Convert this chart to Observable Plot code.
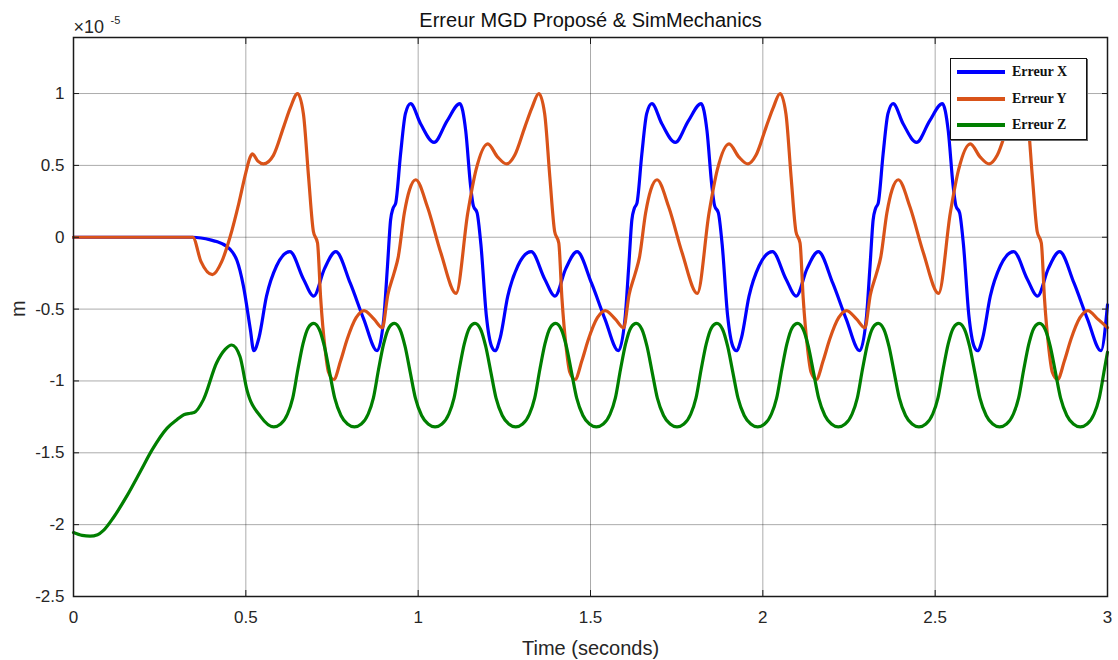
<!DOCTYPE html>
<html>
<head>
<meta charset="utf-8">
<script src="https://cdn.jsdelivr.net/npm/d3@7"></script>
<script src="https://cdn.jsdelivr.net/npm/@observablehq/plot@0.6"></script>
<style>
  html, body { margin: 0; padding: 0; background: #fff; }
  #wrap { position: relative; width: 1118px; height: 660px; font-family: "Liberation Sans", Arial, sans-serif; }
  #legend { position: absolute; left: 950px; top: 58px; width: 135px; height: 80px; background: #fff;
            border: 1.5px solid #111; box-shadow: 1px 1px 0 #666; }
  .row { position: absolute; left: 6px; height: 20px; }
  .swatch { position: absolute; left: 0; top: 8px; width: 48px; height: 4px; }
  .lbl { position: absolute; left: 55px; top: 0; font-family: "Liberation Serif", "Times New Roman", serif;
         font-weight: bold; font-size: 14px; line-height: 20px; white-space: nowrap; color: #111; }
</style>
</head>
<body>
<div id="wrap"></div>
<script>
// ---- tick labels ----
const xTicks = [0, 0.5, 1, 1.5, 2, 2.5, 3];
const yTicks = [-2.5, -2, -1.5, -1, -0.5, 0, 0.5, 1];

// ---- series names / colours ----
const seriesNames = ["Erreur X", "Erreur Y", "Erreur Z"];
const seriesColors = ["#0000ff", "#d95319", "#007f00"];

// ---- Erreur X (blue), time in s, value in 1e-5 m ----
const tX = [0, 0.346, 0.37, 0.40, 0.415, 0.445, 0.46, 0.474, 0.493, 0.513,
  0.523, 0.538, 0.560, 0.589, 0.628, 0.667, 0.697, 0.728, 0.761, 0.803, 0.842, 0.881, 0.900, 0.911, 0.920, 0.927, 0.935, 0.949, 0.963, 0.978, 1.007, 1.046, 1.084, 1.121, 1.138, 1.152, 1.160, 1.171, 1.182, 1.198, 1.213,
  1.223, 1.238, 1.260, 1.289, 1.328, 1.367, 1.397, 1.428, 1.461, 1.503, 1.542, 1.581, 1.600, 1.611, 1.620, 1.627, 1.635, 1.649, 1.663, 1.678, 1.707, 1.746, 1.784, 1.821, 1.838, 1.852, 1.860, 1.871, 1.882, 1.898, 1.913,
  1.923, 1.938, 1.960, 1.989, 2.028, 2.067, 2.097, 2.128, 2.161, 2.203, 2.242, 2.281, 2.300, 2.311, 2.320, 2.327, 2.335, 2.349, 2.363, 2.378, 2.407, 2.446, 2.484, 2.521, 2.538, 2.552, 2.560, 2.571, 2.582, 2.598, 2.613,
  2.623, 2.638, 2.660, 2.689, 2.728, 2.767, 2.797, 2.828, 2.861, 2.903, 2.942, 2.981, 3.0];
const vX = [0, 0, -0.005, -0.02, -0.03, -0.065, -0.10, -0.16, -0.34, -0.64,
  -0.79, -0.70, -0.41, -0.20, -0.10, -0.29, -0.41, -0.22, -0.10, -0.32, -0.57, -0.79, -0.57, -0.20, 0.12, 0.20, 0.24, 0.58, 0.86, 0.93, 0.79, 0.66, 0.81, 0.93, 0.74, 0.36, 0.22, 0.17, -0.05, -0.55, -0.76,
  -0.79, -0.70, -0.41, -0.20, -0.10, -0.29, -0.41, -0.22, -0.10, -0.32, -0.57, -0.79, -0.57, -0.20, 0.12, 0.20, 0.24, 0.58, 0.86, 0.93, 0.79, 0.66, 0.81, 0.93, 0.74, 0.36, 0.22, 0.17, -0.05, -0.55, -0.76,
  -0.79, -0.70, -0.41, -0.20, -0.10, -0.29, -0.41, -0.22, -0.10, -0.32, -0.57, -0.79, -0.57, -0.20, 0.12, 0.20, 0.24, 0.58, 0.86, 0.93, 0.79, 0.66, 0.81, 0.93, 0.74, 0.36, 0.22, 0.17, -0.05, -0.55, -0.76,
  -0.79, -0.70, -0.41, -0.20, -0.10, -0.29, -0.41, -0.22, -0.10, -0.32, -0.57, -0.79, -0.47];

// ---- Erreur Y (orange) ----
const tY = [0, 0.346, 0.37, 0.403, 0.43, 0.454, 0.48, 0.50, 0.513, 0.519, 0.535, 0.551, 0.58, 0.61, 0.629,
  0.650, 0.667, 0.682, 0.696, 0.708, 0.717, 0.730, 0.740, 0.755, 0.775, 0.794, 0.820, 0.843, 0.872, 0.896, 0.912, 0.930, 0.942, 0.960, 0.975, 0.993, 1.027, 1.066, 1.110, 1.144, 1.168, 1.202, 1.230, 1.257, 1.280, 1.310, 1.330,
  1.350, 1.367, 1.382, 1.396, 1.408, 1.417, 1.430, 1.440, 1.455, 1.475, 1.494, 1.520, 1.543, 1.572, 1.596, 1.612, 1.630, 1.642, 1.660, 1.675, 1.693, 1.727, 1.766, 1.810, 1.844, 1.868, 1.902, 1.930, 1.957, 1.980, 2.010, 2.030,
  2.050, 2.067, 2.082, 2.096, 2.108, 2.117, 2.130, 2.140, 2.155, 2.175, 2.194, 2.220, 2.243, 2.272, 2.296, 2.312, 2.330, 2.342, 2.360, 2.375, 2.393, 2.427, 2.466, 2.510, 2.544, 2.568, 2.602, 2.630, 2.657, 2.680, 2.710, 2.730,
  2.750, 2.767, 2.782, 2.796, 2.808, 2.817, 2.830, 2.840, 2.855, 2.875, 2.894, 2.920, 2.943, 2.972, 3.0];
const vY = [0, 0, -0.17, -0.26, -0.17, 0, 0.24, 0.45, 0.56, 0.58, 0.53, 0.51, 0.57, 0.77, 0.90,
  1.00, 0.86, 0.42, 0.04, -0.04, -0.42, -0.78, -0.94, -0.99, -0.86, -0.71, -0.56, -0.51, -0.57, -0.63, -0.40, -0.25, -0.14, 0.17, 0.33, 0.40, 0.21, -0.11, -0.39, 0.17, 0.47, 0.65, 0.56, 0.51, 0.57, 0.77, 0.90,
  1.00, 0.86, 0.42, 0.04, -0.04, -0.42, -0.78, -0.94, -0.99, -0.86, -0.71, -0.56, -0.51, -0.57, -0.63, -0.40, -0.25, -0.14, 0.17, 0.33, 0.40, 0.21, -0.11, -0.39, 0.17, 0.47, 0.65, 0.56, 0.51, 0.57, 0.77, 0.90,
  1.00, 0.86, 0.42, 0.04, -0.04, -0.42, -0.78, -0.94, -0.99, -0.86, -0.71, -0.56, -0.51, -0.57, -0.63, -0.40, -0.25, -0.14, 0.17, 0.33, 0.40, 0.21, -0.11, -0.39, 0.17, 0.47, 0.65, 0.56, 0.51, 0.57, 0.77, 0.90,
  1.00, 0.86, 0.42, 0.04, -0.04, -0.42, -0.78, -0.94, -0.99, -0.86, -0.71, -0.56, -0.51, -0.57, -0.63];

// ---- Erreur Z (green) ----
const tZ = [0, 0.025, 0.048, 0.07, 0.087, 0.116, 0.155, 0.194, 0.228, 0.271, 0.300, 0.320, 0.339, 0.350, 0.377, 0.415, 0.440, 0.459, 0.483, 0.503, 0.542,
  0.581, 0.601, 0.621, 0.636, 0.651, 0.666, 0.681, 0.697, 0.713, 0.728, 0.743, 0.758, 0.776, 0.795,
  0.815, 0.835, 0.855, 0.870, 0.885, 0.900, 0.915, 0.931, 0.947, 0.962, 0.977, 0.992, 1.010, 1.029,
  1.049, 1.069, 1.089, 1.104, 1.119, 1.134, 1.149, 1.165, 1.181, 1.196, 1.211, 1.226, 1.244, 1.263,
  1.283, 1.303, 1.323, 1.338, 1.353, 1.368, 1.383, 1.399, 1.415, 1.430, 1.445, 1.460, 1.478, 1.497,
  1.517, 1.537, 1.557, 1.572, 1.587, 1.602, 1.617, 1.633, 1.649, 1.664, 1.679, 1.694, 1.712, 1.731,
  1.751, 1.771, 1.791, 1.806, 1.821, 1.836, 1.851, 1.867, 1.883, 1.898, 1.913, 1.928, 1.946, 1.965,
  1.985, 2.005, 2.025, 2.040, 2.055, 2.070, 2.085, 2.101, 2.117, 2.132, 2.147, 2.162, 2.180, 2.199,
  2.219, 2.239, 2.259, 2.274, 2.289, 2.304, 2.319, 2.335, 2.351, 2.366, 2.381, 2.396, 2.414, 2.433,
  2.453, 2.473, 2.493, 2.508, 2.523, 2.538, 2.553, 2.569, 2.585, 2.600, 2.615, 2.630, 2.648, 2.667,
  2.687, 2.707, 2.727, 2.742, 2.757, 2.772, 2.787, 2.803, 2.819, 2.834, 2.849, 2.864, 2.882, 2.901,
  2.921, 2.941, 2.961, 2.976, 2.991, 3.0];
const vZ = [-2.055, -2.075, -2.08, -2.07, -2.04, -1.95, -1.80, -1.63, -1.48, -1.33, -1.27, -1.235, -1.225, -1.22, -1.13, -0.875, -0.78, -0.75, -0.83, -1.06, -1.245,
  -1.32, -1.30, -1.23, -1.12, -0.92, -0.74, -0.63, -0.60, -0.64, -0.76, -0.94, -1.12, -1.24, -1.30,
  -1.32, -1.30, -1.23, -1.12, -0.92, -0.74, -0.63, -0.60, -0.64, -0.76, -0.94, -1.12, -1.24, -1.30,
  -1.32, -1.30, -1.23, -1.12, -0.92, -0.74, -0.63, -0.60, -0.64, -0.76, -0.94, -1.12, -1.24, -1.30,
  -1.32, -1.30, -1.23, -1.12, -0.92, -0.74, -0.63, -0.60, -0.64, -0.76, -0.94, -1.12, -1.24, -1.30,
  -1.32, -1.30, -1.23, -1.12, -0.92, -0.74, -0.63, -0.60, -0.64, -0.76, -0.94, -1.12, -1.24, -1.30,
  -1.32, -1.30, -1.23, -1.12, -0.92, -0.74, -0.63, -0.60, -0.64, -0.76, -0.94, -1.12, -1.24, -1.30,
  -1.32, -1.30, -1.23, -1.12, -0.92, -0.74, -0.63, -0.60, -0.64, -0.76, -0.94, -1.12, -1.24, -1.30,
  -1.32, -1.30, -1.23, -1.12, -0.92, -0.74, -0.63, -0.60, -0.64, -0.76, -0.94, -1.12, -1.24, -1.30,
  -1.32, -1.30, -1.23, -1.12, -0.92, -0.74, -0.63, -0.60, -0.64, -0.76, -0.94, -1.12, -1.24, -1.30,
  -1.32, -1.30, -1.23, -1.12, -0.92, -0.74, -0.63, -0.60, -0.64, -0.76, -0.94, -1.12, -1.24, -1.30,
  -1.32, -1.30, -1.23, -1.12, -0.92, -0.80];

// ---- texts ----
const titleText = "Erreur MGD Proposé & SimMechanics";
const xLabel = "Time (seconds)";
const yLabel = "m";

const toRows = (ts, vs, s) => ts.map((t, i) => ({t, v: vs[i], s}));
const series = [toRows(tX, vX, seriesNames[0]), toRows(tY, vY, seriesNames[1]), toRows(tZ, vZ, seriesNames[2])];

const fmt = d => String(d);
const tickFont = 17;
const txtColor = "#262626";

const chart = Plot.plot({
  width: 1118,
  height: 660,
  marginLeft: 73,
  marginRight: 11,
  marginTop: 37,
  marginBottom: 64,
  style: {fontFamily: "'Liberation Sans', Arial, sans-serif", background: "#fff", overflow: "visible"},
  x: {domain: [0, 3]},
  y: {domain: [-2.5, 1.39]},
  marks: [
    Plot.ruleX(xTicks, {x: d => d, stroke: "#000", strokeOpacity: 0.33, strokeWidth: 1}),
    Plot.ruleY(yTicks, {y: d => d, stroke: "#000", strokeOpacity: 0.33, strokeWidth: 1}),
    ...series.map((rows, i) => Plot.line(rows, {x: "t", y: "v", stroke: seriesColors[i], strokeWidth: 3.2, curve: "monotone-x"})),
    Plot.frame({stroke: "#1a1a1a", strokeWidth: 1.5}),
    // inward tick marks on all four sides
    Plot.axisX(xTicks, {anchor: "bottom", tickSize: -6, tickFormat: () => "", label: null, stroke: "#1a1a1a"}),
    Plot.axisX(xTicks, {anchor: "top", tickSize: -6, tickFormat: () => "", label: null, stroke: "#1a1a1a"}),
    Plot.axisY(yTicks, {anchor: "left", tickSize: -6, tickFormat: () => "", label: null, stroke: "#1a1a1a"}),
    Plot.axisY(yTicks, {anchor: "right", tickSize: -6, tickFormat: () => "", label: null, stroke: "#1a1a1a"}),
    // tick labels
    Plot.axisX(xTicks, {anchor: "bottom", tickSize: 0, tickPadding: 14, tickFormat: fmt, label: null, fontSize: tickFont, fill: txtColor}),
    Plot.axisY(yTicks, {anchor: "left", tickSize: 0, tickPadding: 9, tickFormat: fmt, label: null, fontSize: tickFont, fill: txtColor}),
    // title, axis labels, exponent
    Plot.text([titleText], {frameAnchor: "top", dy: -11, lineAnchor: "bottom", fontSize: 20, fill: "#111"}),
    Plot.text([xLabel], {frameAnchor: "bottom", dy: 52, lineAnchor: "middle", fontSize: 20, fill: txtColor}),
    Plot.text([yLabel], {frameAnchor: "left", dx: -55, rotate: -90, lineAnchor: "middle", fontSize: 20, fill: txtColor}),
    Plot.text(["×10"], {frameAnchor: "top-left", dx: 0, dy: -5, textAnchor: "start", lineAnchor: "bottom", fontSize: 18, fill: txtColor}),
    Plot.text(["-5"], {frameAnchor: "top-left", dx: 37, dy: -14, textAnchor: "start", lineAnchor: "bottom", fontSize: 11, fill: txtColor})
  ]
});

const wrap = document.getElementById("wrap");
wrap.appendChild(chart);

// legend (HTML overlay)
const legend = document.createElement("div");
legend.id = "legend";
seriesNames.forEach((name, i) => {
  const row = document.createElement("div");
  row.className = "row";
  row.style.top = [3, 30, 56][i] + "px";
  const sw = document.createElement("div");
  sw.className = "swatch";
  sw.style.background = seriesColors[i];
  const lb = document.createElement("div");
  lb.className = "lbl";
  lb.textContent = name;
  row.appendChild(sw);
  row.appendChild(lb);
  legend.appendChild(row);
});
wrap.appendChild(legend);
</script>
</body>
</html>
